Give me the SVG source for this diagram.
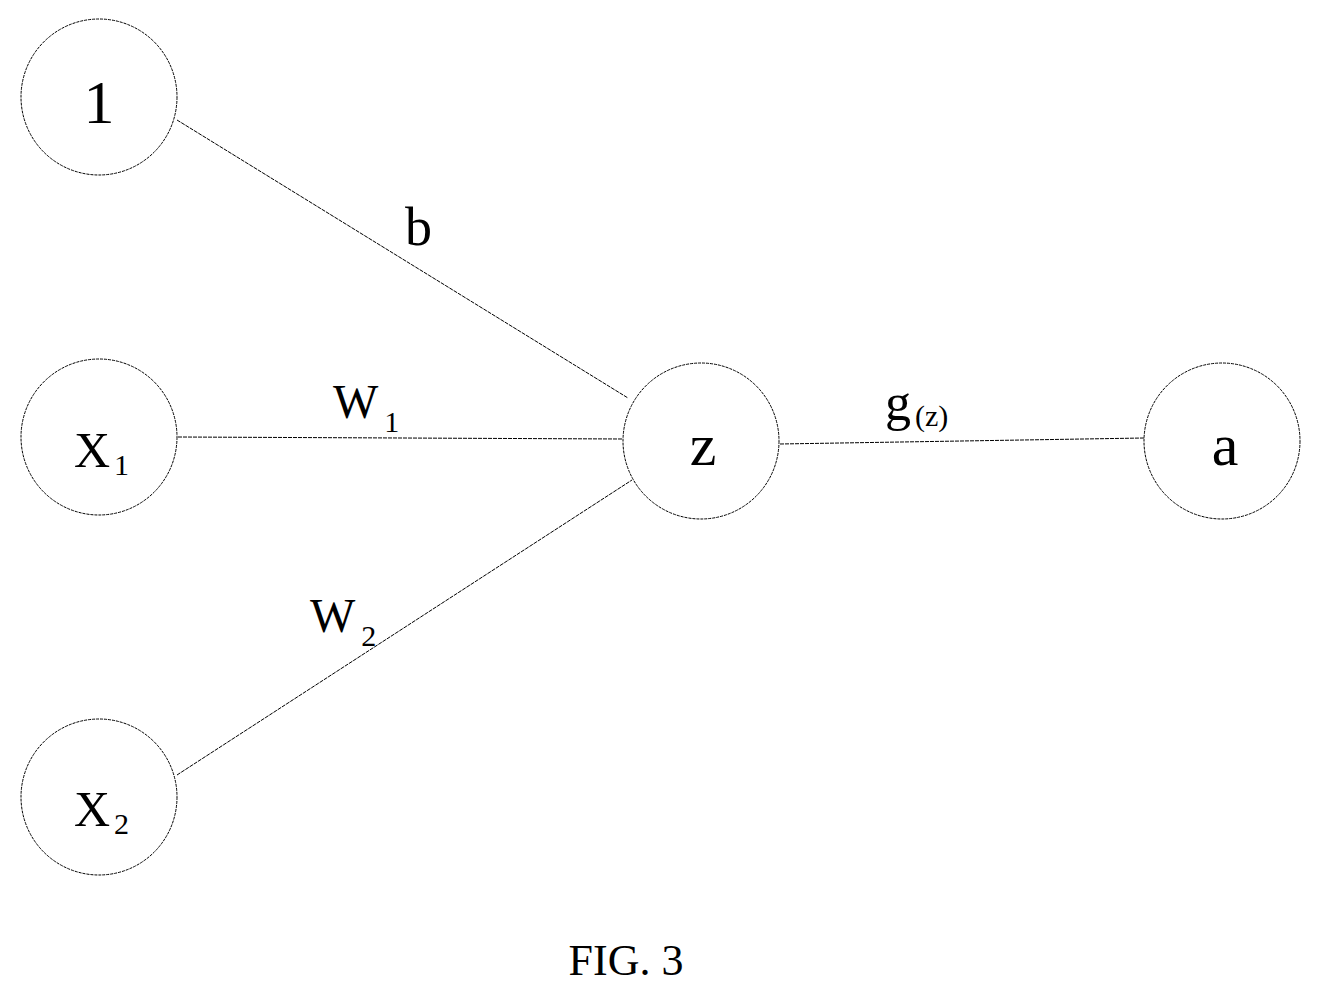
<svg xmlns="http://www.w3.org/2000/svg" width="1321" height="996" viewBox="0 0 1321 996">
<style>
.n{fill:none;stroke:#000;stroke-width:1;stroke-dasharray:3 1}
.c{stroke:#000;stroke-width:1;fill:none;stroke-dasharray:4 1}
text{font-family:"Liberation Serif",serif;fill:#000}
.t{font-size:56px;text-anchor:middle}
.s{font-size:30px}
.l{font-size:48px}
</style>
<rect width="1321" height="996" fill="#fff"/>
<g id="connectors">
<line class="c" x1="177" y1="120" x2="628" y2="398"/>
<line class="c" x1="178" y1="437" x2="623" y2="439"/>
<line class="c" x1="177" y1="775" x2="632" y2="480"/>
<line class="c" x1="780" y1="444" x2="1144" y2="438"/>
<text class="l" x="405" y="245" style="font-size:54px">b</text>
<text class="l" x="333" y="418">W<tspan class="s" dx="6" dy="14">1</tspan></text>
<text class="l" x="310" y="632">W<tspan class="s" dx="6" dy="14">2</tspan></text>
<text class="l" x="885" y="420" style="font-size:52px">g<tspan class="s" dx="4" dy="6">(z)</tspan></text>
</g>
<g id="n1"><circle class="n" cx="99" cy="97" r="78"/><text class="t" x="99" y="123" style="font-size:62px">1</text></g>
<g id="nx1"><circle class="n" cx="99" cy="437" r="78"/><text x="74" y="467" style="font-size:50px">X<tspan class="s" dx="4" dy="8">1</tspan></text></g>
<g id="nx2"><circle class="n" cx="99" cy="797" r="78"/><text x="74" y="826" style="font-size:50px">X<tspan class="s" dx="4" dy="8">2</tspan></text></g>
<g id="nz"><circle class="n" cx="701" cy="441" r="78"/><text class="t" x="703" y="465" style="font-size:60px">z</text></g>
<g id="na"><circle class="n" cx="1222" cy="441" r="78"/><text class="t" x="1225" y="465" style="font-size:60px">a</text></g>
<text x="626" y="975" text-anchor="middle" style="font-size:44px">FIG. 3</text>
</svg>
